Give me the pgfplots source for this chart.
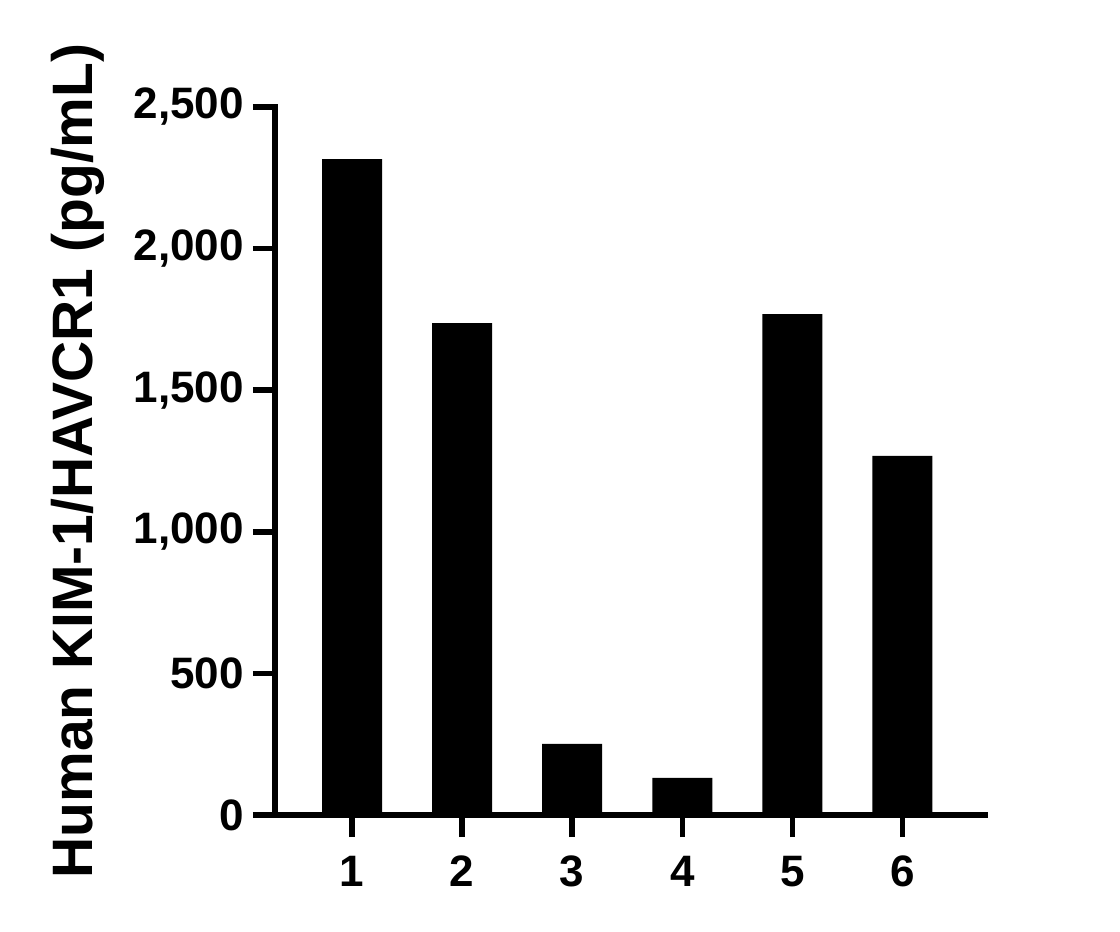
\documentclass[border=0pt]{standalone}
\usepackage{fontspec}
\setmainfont{Liberation Sans}
\usepackage{pgfplots}
\pgfplotsset{compat=1.18}
\begin{document}
\begin{tikzpicture}
\path[use as bounding box] (-137.5pt,-58.5pt) rectangle (422.5pt,407.5pt);
\begin{axis}[
  at={(0,0)}, anchor=south west,
  scale only axis,
  width=355pt, height=354pt,
  xmin=0.3, xmax=6.75,
  ymin=0, ymax=2500,
  axis x line*=bottom,
  axis y line*=left,
  axis line style={line width=2.75pt, line cap=rect},
  every tick/.style={line width=2.75pt, black},
  tick align=outside,
  major tick length=11pt,
  xtick={1,2,3,4,5,6},
  xticklabels={1,2,3,4,5,6},
  ytick={0,500,1000,1500,2000,2500},
  yticklabels={0,500,{1,000},{1,500},{2,000},{2,500}},
  ticklabel style={font=\fontsize{22}{22}\selectfont\bfseries},
  xticklabel style={yshift=-6pt},
  yticklabel style={xshift=-1pt},
  ylabel={Human KIM-1/HAVCR1 (pg/mL)},
  ylabel style={at={(axis description cs:-0.2775,0.5)}, anchor=center, font=\fontsize{28.5}{28.5}\selectfont\bfseries},
  ybar, bar width=30pt,
]
\addplot[fill=black, draw=none] coordinates {(1,2316) (2,1737) (3,251) (4,131) (5,1769) (6,1268)};
\end{axis}
\end{tikzpicture}
\end{document}
